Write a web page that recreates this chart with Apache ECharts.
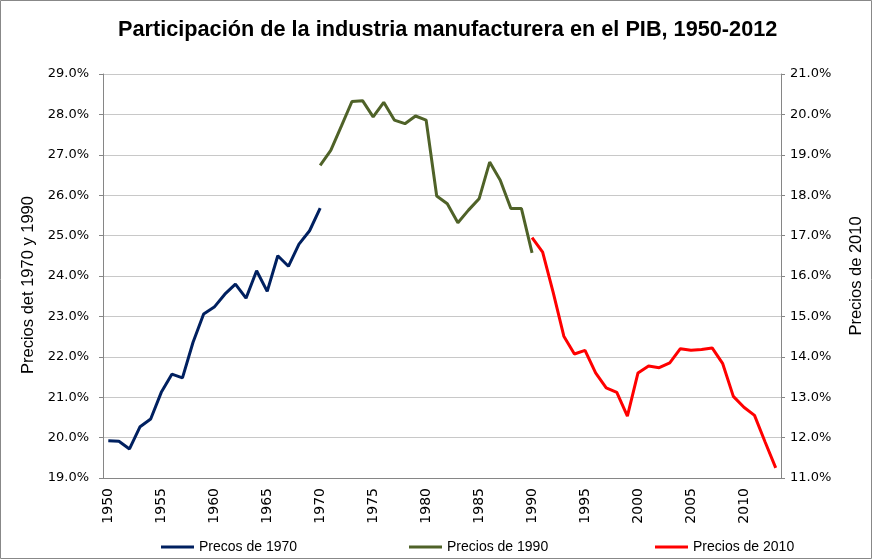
<!DOCTYPE html>
<html>
<head>
<meta charset="utf-8">
<script src="https://cdn.jsdelivr.net/npm/echarts@6/dist/echarts.min.js"></script>
<style>
  html, body { margin: 0; padding: 0; background: #fff; }
  #main { width: 873px; height: 560px; }
</style>
</head>
<body>
<div id="main"></div>
<script>
// años 1950-2013
var years = [];
for (var y = 1950; y <= 2013; y++) years.push(String(y));

// Precios de 1970 (1950-1970)
var precios1970 = [19.92, 19.91, 19.72, 20.27, 20.46, 21.12, 21.57, 21.48, 22.36, 23.06,
  23.23, 23.55, 23.80, 23.45, 24.13, 23.62, 24.50, 24.24, 24.79, 25.12, 25.68];
// Precios de 1990 (1970-1990)
var precios1990 = [26.74, 27.11, 27.71, 28.32, 28.34, 27.94, 28.30, 27.86, 27.77, 27.96,
  27.86, 25.98, 25.79, 25.32, 25.63, 25.91, 26.82, 26.37, 25.67, 25.67, 24.57];
// Precios de 2010 (1990-2013), eje derecho
var precios2010 = [16.95, 16.59, 15.59, 14.51, 14.07, 14.16, 13.60, 13.23, 13.12, 12.53,
  13.60, 13.77, 13.73, 13.85, 14.20, 14.16, 14.18, 14.22, 13.83, 13.02,
  12.75, 12.55, 11.89, 11.25];

function pad(vals, startYear) {
  var out = [];
  for (var i = 0; i < years.length; i++) {
    var k = Number(years[i]) - startYear;
    out.push(k >= 0 && k < vals.length ? vals[k] : null);
  }
  return out;
}

var myChart = echarts.init(document.getElementById('main'));
var font = 'Liberation Sans, Arial, sans-serif';
var tickFont = 'DejaVu Sans, sans-serif';
var legendText = { fontFamily: font, fontSize: 14, color: '#000' };

var option = {
  animation: false,
  title: {
    text: 'Participación de la industria manufacturera en el PIB, 1950-2012',
    left: 113,
    top: 14,
    textStyle: { fontFamily: font, fontSize: 21.7, fontWeight: 'bold', color: '#000' }
  },
  graphic: [{
    type: 'rect',
    shape: { x: 0.5, y: 0.5, width: 871, height: 558 },
    style: { fill: 'none', stroke: '#888', lineWidth: 1 }
  }],
  legend: [
    { data: ['Precos de 1970'], left: 156, top: 535, itemWidth: 33, itemHeight: 3, itemGap: 2, textStyle: legendText, icon: 'rect' },
    { data: ['Precios de 1990'], left: 404, top: 535, itemWidth: 33, itemHeight: 3, textStyle: legendText, icon: 'rect' },
    { data: ['Precios de 2010'], left: 650, top: 535, itemWidth: 33, itemHeight: 3, textStyle: legendText, icon: 'rect' }
  ],
  grid: { left: 103, right: 89, top: 74, bottom: 82 },
  xAxis: {
    type: 'category',
    data: years,
    boundaryGap: true,
    axisLine: { lineStyle: { color: '#868686' } },
    axisTick: { interval: 0, length: 4, lineStyle: { color: '#868686' } },
    axisLabel: { interval: 4, rotate: 90, fontFamily: tickFont, fontSize: 14, color: '#000', margin: 10 }
  },
  yAxis: [
    {
      type: 'value', min: 19, max: 29, interval: 1,
      name: 'Precios det 1970 y 1990',
      nameLocation: 'middle', nameGap: 59, nameRotate: 90,
      nameTextStyle: { fontFamily: font, fontSize: 16.5, color: '#000', padding: [0, 18, 0, 0] },
      axisLine: { show: true, lineStyle: { color: '#868686' } },
      axisTick: { show: true, length: 4, lineStyle: { color: '#868686' } },
      axisLabel: { fontFamily: tickFont, fontSize: 13, color: '#000', margin: 14,
        formatter: function (v) { return v.toFixed(1) + '%'; } },
      splitLine: { lineStyle: { color: '#c8c8c8' } }
    },
    {
      type: 'value', min: 11, max: 21, interval: 1,
      name: 'Precios de 2010',
      nameLocation: 'middle', nameGap: 67, nameRotate: 90,
      nameTextStyle: { fontFamily: font, fontSize: 16.5, color: '#000' },
      axisLine: { show: true, lineStyle: { color: '#868686' } },
      axisTick: { show: true, length: 4, lineStyle: { color: '#868686' } },
      axisLabel: { fontFamily: tickFont, fontSize: 13, color: '#000', margin: 9,
        formatter: function (v) { return v.toFixed(1) + '%'; } },
      splitLine: { show: false }
    }
  ],
  series: [
    { name: 'Precos de 1970', type: 'line', data: pad(precios1970, 1950), yAxisIndex: 0,
      showSymbol: false, lineStyle: { width: 3, color: '#002060' }, itemStyle: { color: '#002060' } },
    { name: 'Precios de 1990', type: 'line', data: pad(precios1990, 1970), yAxisIndex: 0,
      showSymbol: false, lineStyle: { width: 3, color: '#4f6228' }, itemStyle: { color: '#4f6228' } },
    { name: 'Precios de 2010', type: 'line', data: pad(precios2010, 1990), yAxisIndex: 1,
      showSymbol: false, lineStyle: { width: 3, color: '#ff0000' }, itemStyle: { color: '#ff0000' } }
  ]
};
myChart.setOption(option);
</script>
</body>
</html>
